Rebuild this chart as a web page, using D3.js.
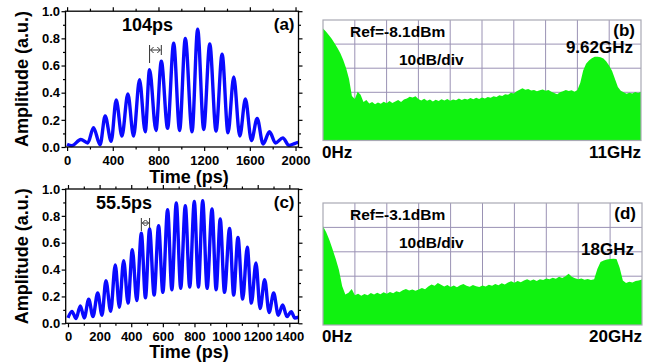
<!DOCTYPE html>
<html>
<head>
<meta charset="utf-8">
<script src="https://cdn.jsdelivr.net/npm/d3@7"></script>
<style>
  body { margin: 0; background: #fff; }
  svg { display: block; font-family: "Liberation Sans", Arial, sans-serif; }
  .lbl { font-weight: bold; fill: #000; }
  .axis text { font-weight: bold; font-size: 13px; fill: #000; font-family: "Liberation Sans", Arial, sans-serif; }
  .axis line { stroke: #000; stroke-width: 1.2; }
</style>
</head>
<body>
<svg id="fig" width="655" height="364"></svg>
<script>
// panel (a): extrema of the waveform, time in ps
var timeA = [0, 41, 120, 181, 231, 289, 333, 386, 430, 480, 532, 582, 634, 684, 722, 778, 825, 880, 933, 985,
             1035, 1094, 1143, 1196, 1249, 1304, 1357, 1409, 1459, 1512, 1561, 1614, 1664, 1716, 1772, 1825,
             1889, 1942, 1991, 2024];
var ampA = [0.02, 0.01, 0.055, 0.03, 0.142, 0.017, 0.229, 0.042, 0.346, 0.08, 0.39, 0.08, 0.495, 0.112, 0.57,
            0.122, 0.632, 0.137, 0.764, 0.122, 0.80, 0.112, 0.868, 0.129, 0.759, 0.117, 0.684, 0.104, 0.515,
            0.08, 0.353, 0.047, 0.211, 0.022, 0.112, 0.03, 0.067, 0.012, 0.025, 0.035];
var ticksA = [0, 400, 800, 1200, 1600, 2000];
var minorA = [200, 600, 1000, 1400, 1800];
var markA = [722, 825];

// panel (c)
var timeC = [0, 25, 51, 78, 103, 131, 158, 188, 215, 240, 270, 299, 325, 352, 380, 407, 435, 464, 490, 516,
             545, 573, 600, 630, 657, 685, 713, 742, 770, 799, 825, 852, 880, 911, 937, 963, 990, 1022, 1048,
             1075, 1105, 1134, 1160, 1189, 1215, 1244, 1272, 1301, 1330, 1358, 1385, 1412, 1435, 1458];
var ampC = [0.04, 0.089, 0.035, 0.13, 0.04, 0.18, 0.05, 0.226, 0.06, 0.318, 0.09, 0.434, 0.12, 0.466, 0.15,
            0.548, 0.17, 0.67, 0.19, 0.702, 0.21, 0.727, 0.23, 0.846, 0.25, 0.896, 0.26, 0.876, 0.27, 0.908,
            0.27, 0.913, 0.26, 0.851, 0.25, 0.777, 0.23, 0.707, 0.21, 0.64, 0.18, 0.566, 0.15, 0.449, 0.11,
            0.325, 0.08, 0.226, 0.06, 0.136, 0.05, 0.087, 0.04, 0.045];
var ticksC = [0, 200, 400, 600, 800, 1000, 1200, 1400];
var minorC = [100, 300, 500, 700, 900, 1100, 1300];
var markC = [464, 516];

var ampTicks = [0, 0.2, 0.4, 0.6, 0.8, 1.0];
var ampMinor = [0.1, 0.3, 0.5, 0.7, 0.9];

// panel (b): spectrum, dB below reference, 0..11 GHz step 0.1
var specB = [-3.5, -4.8, -6.2, -7.8, -9.6, -11.6, -13.8, -16.6, -20.0, -24.5,
             -31.5, -32.8, -29.8, -31.0, -34.0, -33.2, -34.6, -34.0, -35.0, -34.2,
             -34.8, -33.9, -34.5, -33.6, -34.4, -33.8, -33.2, -34.0, -33.0, -32.6,
             -31.8, -32.2, -31.6, -32.8, -33.4, -32.7, -33.5, -33.0, -33.8, -33.1,
             -33.6, -32.9, -33.4, -32.8, -33.5, -33.0, -33.3, -32.6, -33.2, -32.7,
             -33.0, -32.4, -32.9, -32.3, -32.8, -32.2, -32.6, -31.9, -32.3, -31.6,
             -31.9, -31.2, -31.5, -30.8, -31.0, -30.2, -30.5, -29.6, -28.9, -28.3,
             -28.9, -28.6, -29.3, -29.0, -29.6, -29.2, -28.8, -29.4, -29.0, -29.8,
             -30.3, -30.8, -30.0, -29.6, -29.0, -29.5, -29.2, -29.8, -29.0, -26.0,
             -21.0, -18.2, -16.8, -15.9, -15.3, -15.2, -15.5, -16.0, -17.2, -19.0,
             -21.2, -24.5, -27.8, -29.4, -30.0, -30.6, -30.2, -30.5, -29.9, -30.3, -29.8];

// panel (d): 0..20 GHz step 0.2
var specD = [-9.5, -12.0, -15.2, -19.0, -23.0, -27.5, -34.0, -37.5, -36.8, -35.2,
             -37.8, -37.2, -38.0, -37.3, -37.8, -36.9, -37.5, -36.8, -37.4, -36.6,
             -37.2, -36.5, -37.0, -36.2, -36.6, -35.8, -35.2, -35.9, -35.4, -36.0,
             -35.5, -34.8, -35.3, -34.2, -33.4, -33.9, -32.8, -33.5, -34.2, -33.6,
             -34.4, -33.8, -34.5, -33.7, -33.2, -33.9, -34.3, -33.6, -34.1, -34.4,
             -33.8, -34.2, -33.5, -33.9, -33.2, -33.7, -32.9, -33.4, -32.6, -32.1,
             -32.7, -32.0, -32.5, -31.8, -31.3, -31.9, -31.4, -32.0, -31.2, -31.6,
             -30.9, -31.3, -30.6, -31.0, -30.2, -30.7, -30.0, -29.0, -30.2, -30.8,
             -31.2, -30.9, -31.5, -31.1, -31.6, -31.2, -27.0, -24.2, -23.6, -23.2,
             -23.0, -22.8, -23.0, -26.5, -31.8, -32.8, -32.3, -32.6, -32.0, -31.8, -31.4];

var svg = d3.select("#fig");

function drawWave(o) {
  var x = d3.scaleLinear().domain(o.xDomain).range([o.left, o.right]);
  var y = d3.scaleLinear().domain([0, 1]).range([o.bottom, o.top]);
  var g = svg.append("g");

  var pts = o.time.map(function(t, i) { return [t, o.amp[i]]; });
  g.append("path")
      .datum(pts)
      .attr("fill", "none")
      .attr("stroke", "#0a0aff")
      .attr("stroke-width", 3.4)
      .attr("stroke-linejoin", "round")
      .attr("d", d3.line()
          .x(function(d) { return x(d[0]); })
          .y(function(d) { return y(d[1]); })
          .curve(d3.curveMonotoneX));

  g.append("rect")
      .attr("x", o.left).attr("y", o.top)
      .attr("width", o.right - o.left).attr("height", o.bottom - o.top)
      .attr("fill", "none").attr("stroke", "#000").attr("stroke-width", 1.3);

  function ax(gen, tr, vals, size, labels, fmt, pad) {
    var a = gen.tickValues(vals).tickSize(size).tickSizeOuter(0).tickPadding(pad || 2);
    a.tickFormat(labels ? fmt : "");
    var s = g.append("g").attr("class", "axis").attr("transform", tr).call(a);
    s.select(".domain").remove();
  }
  var bt = "translate(0," + o.bottom + ")", tp = "translate(0," + o.top + ")";
  var lf = "translate(" + o.left + ",0)", rt = "translate(" + o.right + ",0)";
  ax(d3.axisBottom(x), bt, o.ticks, 4, true, d3.format("d"), o.xPad);
  ax(d3.axisBottom(x), bt, o.minor, 2.5, false);
  ax(d3.axisTop(x), tp, o.ticks, 4, false);
  ax(d3.axisTop(x), tp, o.minor, 2.5, false);
  ax(d3.axisLeft(y), lf, ampTicks, 4, true, d3.format(".1f"), 1.5);
  ax(d3.axisLeft(y), lf, ampMinor, 2.5, false);
  ax(d3.axisRight(y), rt, ampTicks, 4, false);
  ax(d3.axisRight(y), rt, ampMinor, 2.5, false);

  // period marker between two neighbouring peaks
  var x1 = x(o.mark[0]), x2 = x(o.mark[1]), ym = o.markY;
  var m = g.append("g").attr("stroke", "#333").attr("stroke-width", 1).attr("fill", "none");
  m.append("line").attr("x1", x1).attr("x2", x1).attr("y1", ym - 5).attr("y2", ym + o.markLen);
  m.append("line").attr("x1", x2).attr("x2", x2).attr("y1", ym - 5).attr("y2", ym + 5);
  m.append("line").attr("x1", x1 + 1).attr("x2", x2 - 1).attr("y1", ym).attr("y2", ym);
  m.append("path").attr("d", "M" + (x1 + 4) + "," + (ym - 3) + "L" + (x1 + 1) + "," + ym + "L" + (x1 + 4) + "," + (ym + 3));
  m.append("path").attr("d", "M" + (x2 - 4) + "," + (ym - 3) + "L" + (x2 - 1) + "," + ym + "L" + (x2 - 4) + "," + (ym + 3));

  g.append("text").attr("class", "lbl").attr("x", o.periodX).attr("y", o.periodY)
      .attr("font-size", 18).text(o.period);
  g.append("text").attr("class", "lbl").attr("x", o.right - 4).attr("y", o.top + 19)
      .attr("text-anchor", "end").attr("font-size", 17).text(o.tag);
  g.append("text").attr("class", "lbl").attr("x", 189).attr("y", o.xLabelY)
      .attr("text-anchor", "middle").attr("font-size", 18).text("Time (ps)");
  g.append("text").attr("class", "lbl")
      .attr("transform", "translate(28," + ((o.top + o.bottom) / 2) + ") rotate(-90)")
      .attr("text-anchor", "middle").attr("font-size", 18).text("Amplitude (a.u.)");
}

function drawSpectrum(o) {
  var step = o.fMax / (o.spec.length - 1);
  var x = d3.scaleLinear().domain([0, o.fMax]).range([o.left, o.right]);
  var y = d3.scaleLinear().domain([-50, 0]).range([o.bottom, o.top]);
  var g = svg.append("g");

  var grid = g.append("g").attr("stroke", "#9a92b4").attr("stroke-width", 1);
  grid.selectAll("line.v").data(d3.range(1, 10)).enter().append("line")
      .attr("x1", function(d) { return x(d * o.fMax / 10); })
      .attr("x2", function(d) { return x(d * o.fMax / 10); })
      .attr("y1", o.top).attr("y2", o.bottom);
  grid.selectAll("line.h").data([-10, -20, -30, -40]).enter().append("line")
      .attr("x1", o.left).attr("x2", o.right)
      .attr("y1", function(d) { return y(d); })
      .attr("y2", function(d) { return y(d); });

  g.append("path")
      .datum(o.spec)
      .attr("fill", "#10f210")
      .attr("d", d3.area()
          .x(function(d, i) { return x(i * step); })
          .y0(y(-50))
          .y1(function(d) { return y(d); }));

  g.append("rect")
      .attr("x", o.left).attr("y", o.top)
      .attr("width", o.right - o.left).attr("height", o.bottom - o.top)
      .attr("fill", "none").attr("stroke", "#a9a9b4").attr("stroke-width", 1.2);

  g.append("text").attr("class", "lbl").attr("x", o.left + 27).attr("y", o.top + 17)
      .attr("font-size", 15.5).text(o.ref);
  g.append("text").attr("class", "lbl").attr("x", o.left + 76).attr("y", o.top + 45)
      .attr("font-size", 15.5).text("10dB/div");
  g.append("text").attr("class", "lbl").attr("x", o.right - 6).attr("y", o.top + 16)
      .attr("text-anchor", "end").attr("font-size", 17).text(o.tag);
  g.append("text").attr("class", "lbl").attr("x", o.peakX).attr("y", o.peakY)
      .attr("text-anchor", "end").attr("font-size", 17).text(o.peak);
  g.append("text").attr("class", "lbl").attr("x", o.left - 1).attr("y", o.bottom + 17)
      .attr("font-size", 17).text("0Hz");
  g.append("text").attr("class", "lbl").attr("x", o.right).attr("y", o.bottom + 17)
      .attr("text-anchor", "end").attr("font-size", 17).text(o.span);
}

drawWave({ time: timeA, amp: ampA, xDomain: [-14, 2026], left: 65.5, right: 298.5, top: 11.2, bottom: 147,
           ticks: ticksA, minor: minorA, xPad: 5, mark: markA, markY: 50, markLen: 13,
           period: "104ps", periodX: 122, periodY: 31, tag: "(a)", xLabelY: 183 });
drawWave({ time: timeC, amp: ampC, xDomain: [-14.5, 1458], left: 65.7, right: 298.5, top: 189, bottom: 323.3,
           ticks: ticksC, minor: minorC, xPad: 4, mark: markC, markY: 223, markLen: 8,
           period: "55.5ps", periodX: 96, periodY: 209, tag: "(c)", xLabelY: 358 });

drawSpectrum({ spec: specB, fMax: 11, left: 323, right: 641, top: 20, bottom: 140.5,
               ref: "Ref=-8.1dBm", tag: "(b)", peak: "9.62GHz", peakX: 633, peakY: 53, span: "11GHz" });
drawSpectrum({ spec: specD, fMax: 20, left: 323, right: 642, top: 203, bottom: 325,
               ref: "Ref=-3.1dBm", tag: "(d)", peak: "18GHz", peakX: 634, peakY: 255, span: "20GHz" });
</script>
</body>
</html>
